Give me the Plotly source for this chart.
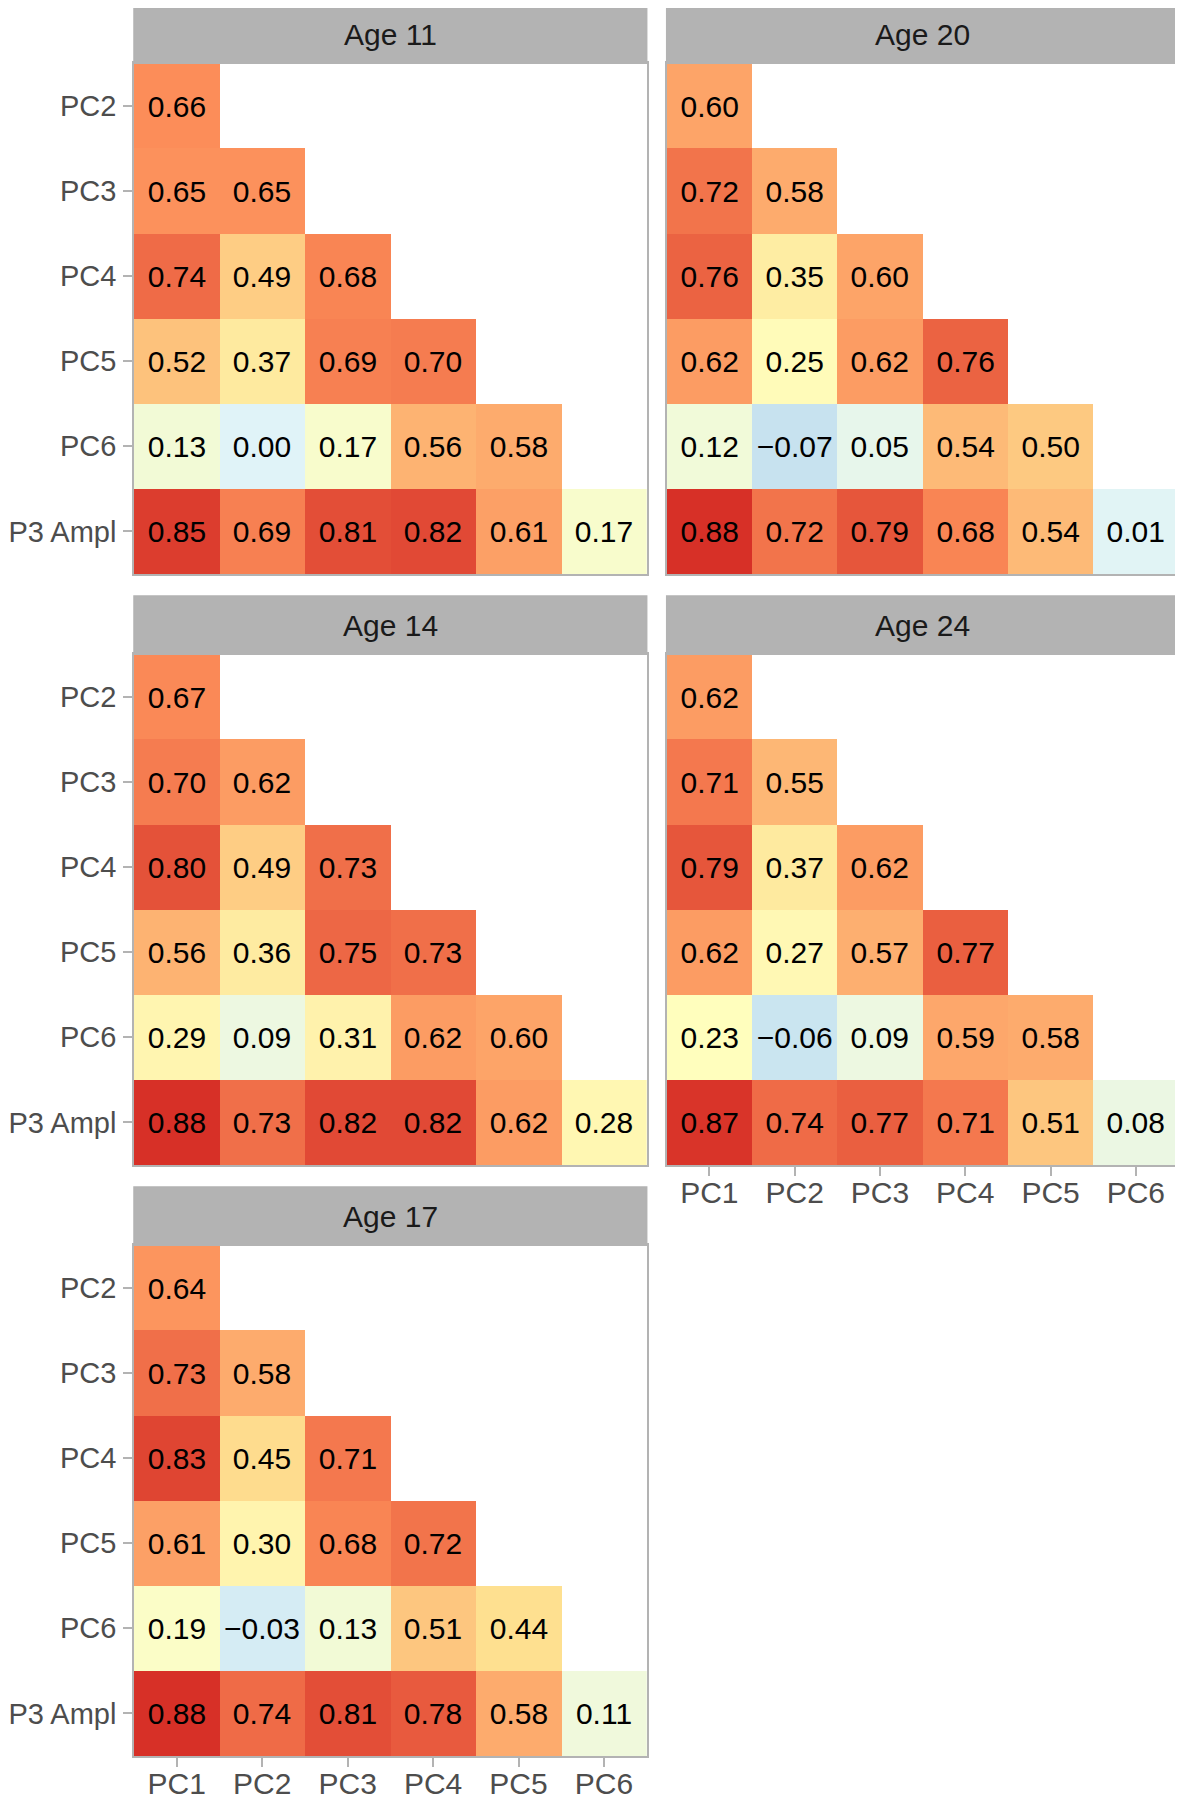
import plotly.graph_objects as go

# ---------------- data ----------------
x_labels = ["PC1", "PC2", "PC3", "PC4", "PC5", "PC6"]
y_labels = ["PC2", "PC3", "PC4", "PC5", "PC6", "P3 Ampl"]
panel_titles = ["Age 11", "Age 14", "Age 17", "Age 20", "Age 24"]

age11 = [
    [0.66],
    [0.65, 0.65],
    [0.74, 0.49, 0.68],
    [0.52, 0.37, 0.69, 0.70],
    [0.13, 0.00, 0.17, 0.56, 0.58],
    [0.85, 0.69, 0.81, 0.82, 0.61, 0.17],
]
age14 = [
    [0.67],
    [0.70, 0.62],
    [0.80, 0.49, 0.73],
    [0.56, 0.36, 0.75, 0.73],
    [0.29, 0.09, 0.31, 0.62, 0.60],
    [0.88, 0.73, 0.82, 0.82, 0.62, 0.28],
]
age17 = [
    [0.64],
    [0.73, 0.58],
    [0.83, 0.45, 0.71],
    [0.61, 0.30, 0.68, 0.72],
    [0.19, -0.03, 0.13, 0.51, 0.44],
    [0.88, 0.74, 0.81, 0.78, 0.58, 0.11],
]
age20 = [
    [0.60],
    [0.72, 0.58],
    [0.76, 0.35, 0.60],
    [0.62, 0.25, 0.62, 0.76],
    [0.12, -0.07, 0.05, 0.54, 0.50],
    [0.88, 0.72, 0.79, 0.68, 0.54, 0.01],
]
age24 = [
    [0.62],
    [0.71, 0.55],
    [0.79, 0.37, 0.62],
    [0.62, 0.27, 0.57, 0.77],
    [0.23, -0.06, 0.09, 0.59, 0.58],
    [0.87, 0.74, 0.77, 0.71, 0.51, 0.08],
]
panel_data = [age11, age14, age17, age20, age24]

# ---------------- style / layout ----------------
OFF = 8  # default page body margin
W, H = 1183 - OFF, 1800 - OFF
FONT = "Liberation Sans, Arial, Helvetica, sans-serif"
FS = 30
GREY = "#b3b3b3"
colorscale = [
    [0 / 6, "#4575b4"], [1 / 6, "#91bfdb"], [2 / 6, "#e0f3f8"],
    [3 / 6, "#ffffbf"], [4 / 6, "#fee090"], [5 / 6, "#fc8d59"], [6 / 6, "#d73027"],
]
ZMIN, ZMAX = -0.44, 0.88

# pixel geometry (page pixels): (x0, x1) columns, (strip_top, plot_top, plot_bottom) rows
cols_px = [(134.0, 646.7), (666.7, 1178.5)]
rows_px = [(5.0, 63.3, 574.0), (596.0, 654.3, 1165.0), (1187.0, 1245.3, 1756.0)]
# panel placement: (col, row, show_y, show_x)
placement = [(0, 0, True, False), (0, 1, True, False), (0, 2, True, True),
             (1, 0, False, False), (1, 1, False, True)]


def fx(px):
    return (px - OFF) / W


def fy(py):
    return 1 - (py - OFF) / H


def fmt(v):
    return f"{v:.2f}".replace("-", "\u2212")


fig = go.Figure()
shapes = []
annotations = []

for i, (title, data) in enumerate(zip(panel_titles, panel_data)):
    col, row, show_y, show_x = placement[i]
    z, txt = [], []
    for r, vals in enumerate(data):
        zr = list(vals) + [None] * (len(x_labels) - len(vals))
        z.append(zr)
        txt.append([fmt(v) if v is not None else "" for v in zr])
    ax = "" if i == 0 else str(i + 1)
    fig.add_trace(go.Heatmap(
        z=z, x=x_labels, y=y_labels, text=txt, texttemplate="%{text}",
        textfont=dict(family=FONT, size=FS, color="#000000"),
        colorscale=colorscale, zmin=ZMIN, zmax=ZMAX, showscale=False,
        hoverinfo="skip", xaxis="x" + ax, yaxis="y" + ax, xgap=0, ygap=0,
    ))
    x0, x1 = cols_px[col]
    st, pt, pb = rows_px[row]
    fig.layout["xaxis" + ax] = dict(
        domain=[fx(x0), fx(x1)], anchor="y" + ax, type="category",
        categoryorder="array", categoryarray=x_labels, range=[-0.5, 5.5],
        showgrid=False, zeroline=False, showline=True, linecolor=GREY,
        linewidth=1.5, mirror=True, automargin=False,
        showticklabels=show_x, ticks="outside" if show_x else "",
        ticklen=9, tickwidth=1.5, tickcolor=GREY, ticklabelstandoff=-9,
        tickfont=dict(family=FONT, size=FS, color="#4d4d4d"),
        fixedrange=True,
    )
    fig.layout["yaxis" + ax] = dict(
        domain=[fy(pb), fy(pt)], anchor="x" + ax, type="category",
        categoryorder="array", categoryarray=y_labels, range=[5.5, -0.5],
        showgrid=False, zeroline=False, showline=True, linecolor=GREY,
        linewidth=1.5, mirror=True, automargin=False,
        showticklabels=show_y, ticks="outside" if show_y else "",
        ticklen=9, tickwidth=1.5, tickcolor=GREY, ticklabelstandoff=1,
        tickfont=dict(family=FONT, size=29, color="#4d4d4d"),
        fixedrange=True,
    )
    shapes.append(dict(type="rect", xref="paper", yref="paper",
                       x0=fx(x0), x1=fx(x1), y0=fy(pt), y1=min(1.0, fy(st)),
                       fillcolor=GREY, line=dict(color=GREY, width=1.5),
                       layer="above"))
    annotations.append(dict(text=title, xref="paper", yref="paper",
                            x=(fx(x0) + fx(x1)) / 2, y=(fy(st) + fy(pt)) / 2,
                            xanchor="center", yanchor="middle", showarrow=False,
                            font=dict(family=FONT, size=FS, color="#1a1a1a")))

fig.update_layout(
    width=W, height=H, margin=dict(l=0, r=0, t=0, b=0, pad=0),
    paper_bgcolor="white", plot_bgcolor="white",
    shapes=shapes, annotations=annotations, showlegend=False,
    font=dict(family=FONT),
)

fig.write_html("out.html")
